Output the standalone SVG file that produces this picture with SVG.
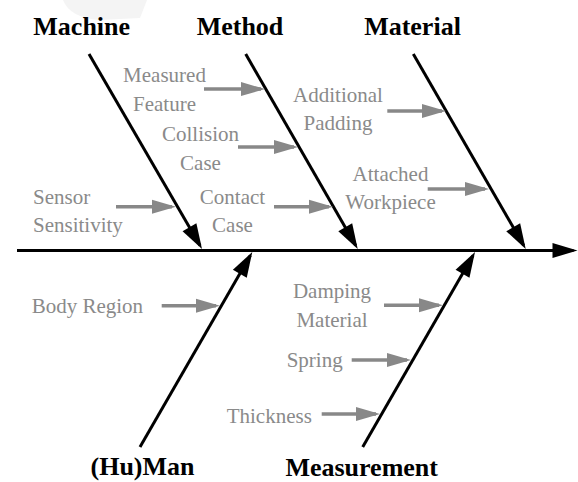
<svg xmlns="http://www.w3.org/2000/svg" width="578" height="482" viewBox="0 0 578 482">
<style>
.cat{font-family:"Liberation Serif","Times New Roman",serif;font-size:26px;font-weight:bold;fill:#000;text-anchor:middle}
.cause{font-family:"Liberation Serif","Times New Roman",serif;font-size:21px;fill:#8a8a8a}
.mid{text-anchor:middle}
.bone{stroke:#000;stroke-width:3;fill:none;marker-end:url(#ah)}
.spine{stroke:#000;stroke-width:3;fill:none;marker-end:url(#ahMain)}
.sub{stroke:#888;stroke-width:3.5;fill:none;marker-end:url(#ahGray)}
</style>
<defs>
<marker id="ah" markerUnits="userSpaceOnUse" markerWidth="25" markerHeight="16" refX="21" refY="8" orient="auto" overflow="visible">
<path d="M0,0 L25,8 L0,16 z" fill="#000"/>
</marker>
<marker id="ahMain" markerUnits="userSpaceOnUse" markerWidth="25" markerHeight="15" refX="21" refY="7.5" orient="auto" overflow="visible">
<path d="M0,0 L25,7.5 L0,15 z" fill="#000"/>
</marker>
<marker id="ahGray" markerUnits="userSpaceOnUse" markerWidth="24" markerHeight="14" refX="20" refY="7" orient="auto" overflow="visible">
<path d="M0,0 L24,7 L0,14 z" fill="#888"/>
</marker>
</defs>
<rect width="578" height="482" fill="#fff"/>
<path d="M63,0 Q70,18 100,20 L140,18 L147,0 Z" fill="#f4f4f4"/>

<g id="connectors">
<line class="spine" x1="17" y1="250.5" x2="573.5" y2="250.5"/>
<line class="bone" x1="89" y1="54" x2="200" y2="245.5"/>
<line class="bone" x1="245.7" y1="54" x2="355.7" y2="245.5"/>
<line class="bone" x1="413.3" y1="54" x2="523.7" y2="245.5"/>
<line class="bone" x1="140" y1="447" x2="250.3" y2="255.5"/>
<line class="bone" x1="362.7" y1="447" x2="473" y2="255.5"/>
<line class="sub" x1="204" y1="89" x2="261" y2="89"/>
<line class="sub" x1="238" y1="147" x2="294" y2="147"/>
<line class="sub" x1="274" y1="206.7" x2="329" y2="206.7"/>
<line class="sub" x1="116" y1="206.7" x2="172" y2="206.7"/>
<line class="sub" x1="387.3" y1="111" x2="442" y2="111"/>
<line class="sub" x1="427.7" y1="189" x2="485" y2="189"/>
<line class="sub" x1="161.7" y1="305.7" x2="216" y2="305.7"/>
<line class="sub" x1="384" y1="305.3" x2="439" y2="305.3"/>
<line class="sub" x1="351.7" y1="360" x2="407" y2="360"/>
<line class="sub" x1="321.7" y1="414" x2="376" y2="414"/>
</g>

<g id="machine"><text class="cat" x="81.7" y="35">Machine</text></g>
<g id="method"><text class="cat" x="240" y="35">Method</text></g>
<g id="material"><text class="cat" x="412.5" y="35">Material</text></g>
<g id="human"><text class="cat" x="142.5" y="475">(Hu)Man</text></g>
<g id="measurement"><text class="cat" x="361.7" y="476">Measurement</text></g>

<g id="measured-feature"><text class="cause mid" x="164.5" y="82">Measured</text><text class="cause mid" x="164.5" y="111">Feature</text></g>
<g id="collision-case"><text class="cause mid" x="200.5" y="141">Collision</text><text class="cause mid" x="200.5" y="169.5">Case</text></g>
<g id="contact-case"><text class="cause mid" x="232.5" y="204">Contact</text><text class="cause mid" x="232.5" y="232">Case</text></g>
<g id="sensor-sensitivity"><text class="cause" x="33" y="204">Sensor</text><text class="cause" x="33" y="232">Sensitivity</text></g>
<g id="additional-padding"><text class="cause mid" x="338" y="102">Additional</text><text class="cause mid" x="338" y="130">Padding</text></g>
<g id="attached-workpiece"><text class="cause mid" x="390.5" y="181">Attached</text><text class="cause mid" x="390.5" y="209">Workpiece</text></g>
<g id="body-region"><text class="cause" x="31.7" y="313">Body Region</text></g>
<g id="damping-material"><text class="cause mid" x="332" y="298">Damping</text><text class="cause mid" x="332" y="327">Material</text></g>
<g id="spring"><text class="cause" x="286.7" y="367">Spring</text></g>
<g id="thickness"><text class="cause" x="226.7" y="423">Thickness</text></g>
</svg>
